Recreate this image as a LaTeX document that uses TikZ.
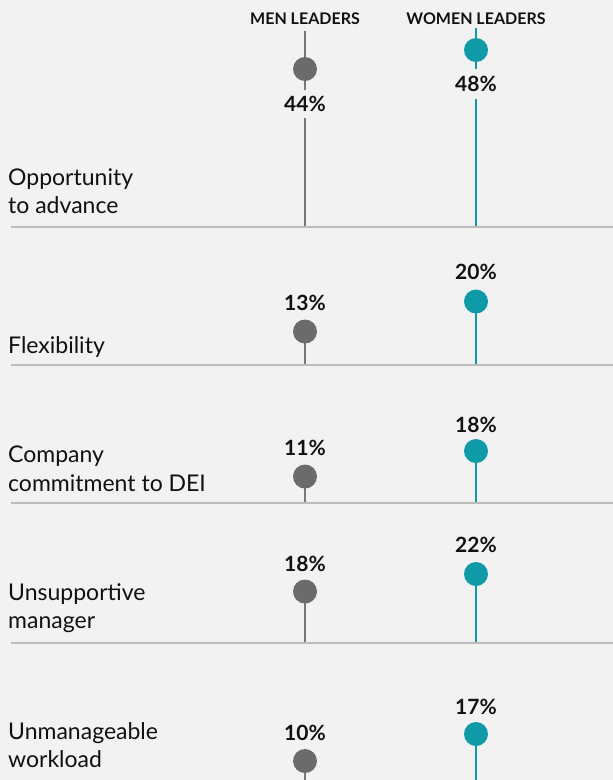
\documentclass[tikz,border=0pt]{standalone}
\usepackage{fontspec}
\setmainfont{Lato}
\definecolor{bg}{HTML}{F2F2F2}
\definecolor{mengray}{HTML}{6B6B6B}
\definecolor{stemgray}{HTML}{777777}
\definecolor{teal}{HTML}{0F9AA8}
\definecolor{sepgray}{HTML}{BCBCBC}
\definecolor{ink}{HTML}{111111}
\begin{document}
\begin{tikzpicture}[x=1pt,y=-1pt,
  hdr/.style={font=\bfseries\fontsize{16}{18}\selectfont, text=ink, inner sep=0},
  pct/.style={font=\bfseries\fontsize{21}{24}\selectfont, text=ink, fill=bg, inner sep=1pt, minimum height=26pt},
  cat/.style={font=\fontsize{23}{28.5}\selectfont, text=ink, align=left, anchor=west, inner sep=0},
  mdot/.style={circle, fill=mengray, minimum size=24pt, inner sep=0},
  wdot/.style={circle, fill=teal, minimum size=24pt, inner sep=0},
  mstem/.style={draw=stemgray, line width=2pt},
  wstem/.style={draw=teal, line width=2pt},
  sep/.style={draw=sepgray, line width=2pt}]
\fill[bg] (0,0) rectangle (613,780);
\useasboundingbox (0,0) rectangle (613,780);
% header
\node[hdr] (hm) at (305,19) {MEN LEADERS};
\node[hdr] (hw) at (476,19) {WOMEN LEADERS};
% separators
\coordinate (s1a) at (11,227); \coordinate (s1b) at (613,227);
\coordinate (s2a) at (11,365); \coordinate (s2b) at (613,365);
\coordinate (s3a) at (11,503); \coordinate (s3b) at (613,503);
\coordinate (s4a) at (11,643); \coordinate (s4b) at (613,643);
% stem base coordinates
\coordinate (m1t) at (305,31); \coordinate (w1t) at (476,28);
\coordinate (m1b) at (305,227); \coordinate (w1b) at (476,227);
\coordinate (m2b) at (305,365); \coordinate (w2b) at (476,365);
\coordinate (m3b) at (305,503); \coordinate (w3b) at (476,503);
\coordinate (m4b) at (305,643); \coordinate (w4b) at (476,643);
\coordinate (m5b) at (305,780); \coordinate (w5b) at (476,780);
% panel 1 stems (full, labels overlay)
\draw[mstem] (m1t) -- (m1b);
\draw[wstem] (w1t) -- (w1b);
% panel 1
\node[mdot] (m1) at (305,69) {};
\node[wdot] (w1) at (476,50) {};
\node[pct, minimum height=28pt] (lm1) at (305,104) {44\%};
\node[pct, minimum height=30pt] (lw1) at (476,84) {48\%};
\node[cat] (c1) at (8,191) {Opportunity\\to advance};
% panel 2
\draw[mstem] (m2b) -- (305,331.5);
\draw[wstem] (w2b) -- (476,301.5);
\node[mdot] (m2) at (305,331.5) {};
\node[wdot] (w2) at (476,301.5) {};
\node[pct] (lm2) at (305,303) {13\%};
\node[pct] (lw2) at (476,272) {20\%};
\node[cat] (c2) at (8,347) {Flexibility};
% panel 3
\draw[mstem] (m3b) -- (305,476.5);
\draw[wstem] (w3b) -- (476,451);
\node[mdot] (m3) at (305,476.5) {};
\node[wdot] (w3) at (476,451) {};
\node[pct] (lm3) at (305,448) {11\%};
\node[pct] (lw3) at (476,425) {18\%};
\node[cat] (c3) at (8,469) {Company\\commitment to DEI};
% panel 4
\draw[mstem] (m4b) -- (305,591.5);
\draw[wstem] (w4b) -- (476,574);
\node[mdot] (m4) at (305,591.5) {};
\node[wdot] (w4) at (476,574) {};
\node[pct] (lm4) at (305,564) {18\%};
\node[pct] (lw4) at (476,545) {22\%};
\node[cat] (c4) at (8,608) {Unsupportive\\manager};
% panel 5
\draw[mstem] (m5b) -- (305,761);
\draw[wstem] (w5b) -- (476,734);
\node[mdot] (m5) at (305,761) {};
\node[wdot] (w5) at (476,734) {};
\node[pct] (lm5) at (305,733) {10\%};
\node[pct] (lw5) at (476,707) {17\%};
\node[cat] (c5) at (8,745) {Unmanageable\\workload};
% separators drawn
\draw[sep] (s1a) -- (s1b);
\draw[sep] (s2a) -- (s2b);
\draw[sep] (s3a) -- (s3b);
\draw[sep] (s4a) -- (s4b);
\end{tikzpicture}
\end{document}
